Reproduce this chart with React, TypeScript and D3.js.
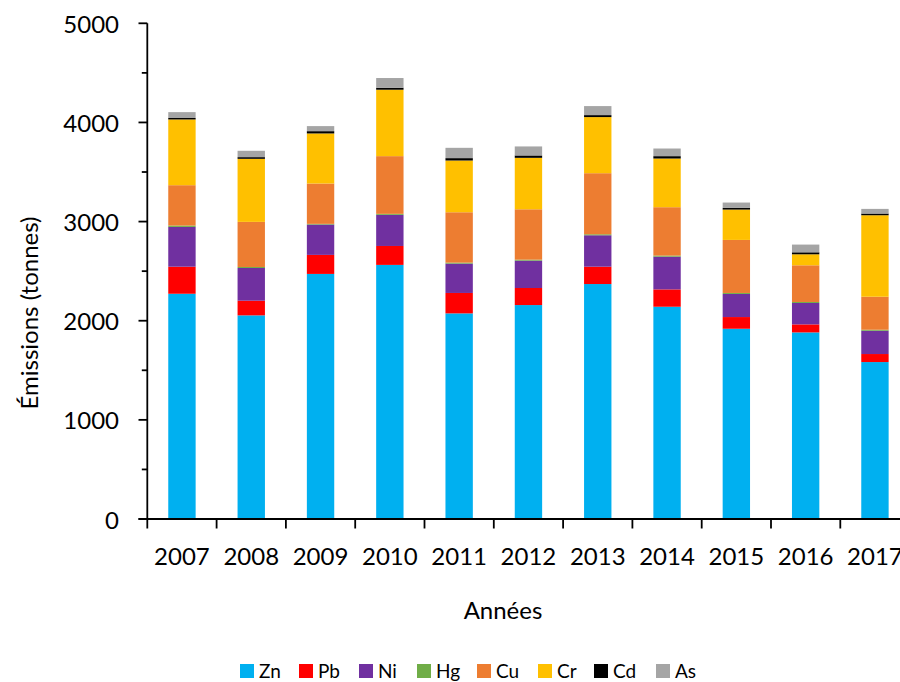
import React from 'react';
import * as d3 from 'd3';

const years = ['2007', '2008', '2009', '2010', '2011', '2012', '2013', '2014', '2015', '2016', '2017'];

// émissions par métal (tonnes)
const zn = [2272, 2054, 2472, 2563, 2074, 2158, 2370, 2141, 1919, 1882, 1583];
const pb = [273, 148, 192, 191, 206, 172, 175, 175, 118, 81, 81];
const ni = [401, 330, 306, 314, 296, 276, 317, 330, 233, 216, 235];
const hg = [14, 10, 7, 10, 10, 10, 10, 11, 10, 10, 10];
const cu = [407, 455, 407, 582, 508, 508, 616, 488, 535, 370, 333];
const cr = [663, 636, 505, 670, 522, 519, 566, 491, 306, 111, 822];
const cd = [15, 17, 23, 20, 24, 24, 20, 24, 17, 20, 17];
const as = [59, 64, 51, 98, 104, 91, 91, 77, 54, 78, 47];

const metals = ['Zn', 'Pb', 'Ni', 'Hg', 'Cu', 'Cr', 'Cd', 'As'];
const colors = ['#00B0F0', '#FF0000', '#7030A0', '#70AD47', '#ED7D31', '#FFC000', '#000000', '#A5A5A5'];
const yTicks = [0, 1000, 2000, 3000, 4000, 5000];
const yMinor = [500, 1500, 2500, 3500, 4500];

const series = [zn, pb, ni, hg, cu, cr, cd, as];

const rows = years.map((yr, i) => {
  const r: any = { year: yr };
  metals.forEach((m, j) => (r[m] = series[j][i]));
  return r;
});

const FONT = 'Lato, "Open Sans", sans-serif';

const App = () => {
  const width = 900;
  const height = 682;

  const x = d3.scaleBand<string>().domain(years).range([147.3, 909.6]).padding(0);
  const y = d3.scaleLinear().domain([0, 5000]).range([519, 23.3]);
  const bw = x.bandwidth();
  const barW = bw * 0.395;

  const stacked = d3.stack<any>().keys(metals)(rows);
  const color = d3.scaleOrdinal<string, string>().domain(metals).range(colors);

  const boundaries = years.map(yr => x(yr) as number).concat([x.range()[1]]);

  // legend positions
  const legendX = [240, 299, 359, 417, 477, 538, 594, 656];

  return (
    <div style={{ position: 'absolute', left: 0, top: 0 }}>
      <svg width={width} height={height} style={{ display: 'block', background: '#fff' }}>
        {stacked.map(layer => (
          <g key={layer.key} fill={color(layer.key)}>
            {layer.map((d, i) => (
              <rect
                key={i}
                x={(x(years[i]) as number) + (bw - barW) / 2}
                y={y(d[1])}
                width={barW}
                height={Math.max(0, y(d[0]) - y(d[1]))}
              />
            ))}
          </g>
        ))}

        {/* axe Y */}
        <line x1={147.3} x2={147.3} y1={y(5000)} y2={y(0)} stroke="#000" strokeWidth={1.8} />
        {yTicks.map(t => (
          <g key={t}>
            <line x1={138.5} x2={147.3} y1={y(t)} y2={y(t)} stroke="#000" strokeWidth={1.8} />
            <text
              x={119}
              y={y(t)}
              textAnchor="end"
              dominantBaseline="central"
              fontFamily={FONT}
              fontSize={24}
              fill="#000"
            >
              {t}
            </text>
          </g>
        ))}
        {yMinor.map(t => (
          <line key={t} x1={141.8} x2={147.3} y1={y(t)} y2={y(t)} stroke="#000" strokeWidth={1.8} />
        ))}

        {/* axe X */}
        <line x1={138.5} x2={width} y1={y(0)} y2={y(0)} stroke="#000" strokeWidth={1.8} />
        {boundaries.map((b, i) => (
          <line key={i} x1={b} x2={b} y1={y(0)} y2={528.5} stroke="#000" strokeWidth={1.8} />
        ))}
        {years.map(yr => (
          <text
            key={yr}
            x={(x(yr) as number) + bw / 2}
            y={564.5}
            textAnchor="middle"
            fontFamily={FONT}
            fontSize={24}
            fill="#000"
          >
            {yr}
          </text>
        ))}

        <text x={503} y={619} textAnchor="middle" fontFamily={FONT} fontSize={24} fill="#000">
          Années
        </text>
        <text
          transform="translate(38,313) rotate(-90)"
          textAnchor="middle"
          fontFamily={FONT}
          fontSize={24}
          fill="#000"
        >
          Émissions (tonnes)
        </text>

        {/* légende */}
        {metals.map((m, i) => (
          <g key={m}>
            <rect x={legendX[i]} y={664} width={14} height={14} fill={color(m)} />
            <text x={legendX[i] + 19} y={678} fontFamily={FONT} fontSize={19} fill="#000">
              {m}
            </text>
          </g>
        ))}
      </svg>
    </div>
  );
};

export default App;
